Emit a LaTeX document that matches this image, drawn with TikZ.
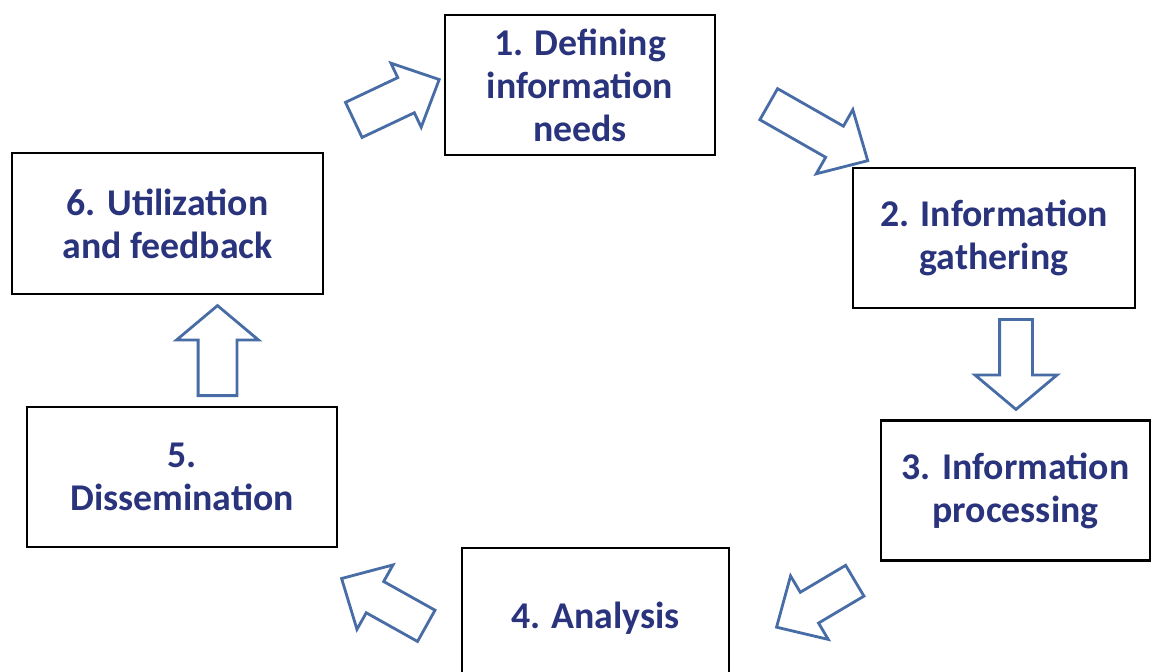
\documentclass[tikz,border=0pt]{standalone}
\usepackage{fontspec}
\setmainfont{Carlito}
\usepackage{tikz}
\usetikzlibrary{shapes.arrows}

\definecolor{navytext}{RGB}{42,52,125}
\definecolor{flowblue}{RGB}{72,108,165}

\begin{document}
\begin{tikzpicture}[
    stage/.style={rectangle, draw, line width=1.6pt, minimum width=5.4cm, minimum height=2.8cm, align=center, text=navytext, font=\bfseries\fontsize{21.5}{24.5}\selectfont},
    flow/.style={single arrow, draw=flowblue, fill=white, line width=1.6pt, inner xsep=0pt, inner ysep=0.33cm, minimum height=1.9cm, single arrow head extend=0.38cm, single arrow tip angle=88, anchor=tail},
    upright/.style={flow, minimum height=1.8cm, single arrow tip angle=100},
]

% Frame
\path[use as bounding box, fill=white] (0,0) rectangle (23.12,-13.42);
\clip (0,0) rectangle (23.12,-13.42);

% Nodes
\node[stage] (define) at (11.6,-1.7) {1. Defining\\information\\needs};
\node[stage, minimum width=5.64cm] (gather) at (19.88,-4.76) {2. Information\\gathering};
\node[stage, minimum width=5.38cm] (process) at (20.31,-9.81) {3. Information\\processing};
\node[stage, minimum width=5.34cm] (analysis) at (11.91,-12.36) {4. Analysis};
\node[stage, minimum width=6.2cm] (dissem) at (3.64,-9.54) {5.\\Dissemination};
\node[stage, minimum width=6.22cm, minimum height=2.82cm] (utilize) at (3.35,-4.47) {6. Utilization\\and feedback};

% Block arrows (placed by their tails)
\node[flow, rotate=-29.7, minimum height=2.28cm] (f12) at (15.35,-2.07) {};
\node[upright, rotate=-90, inner ysep=0.3cm, single arrow head extend=0.49cm] (f23) at (20.32,-6.36) {};
\node[flow, rotate=210.7, minimum height=1.82cm] (f34) at (17.12,-11.6) {};
\node[flow, rotate=150.8, minimum height=1.94cm] (f45) at (8.55,-12.53) {};
\node[upright, rotate=90, inner ysep=0.36cm, single arrow head extend=0.43cm] (f56) at (4.35,-7.94) {};
\node[flow, rotate=25.3, minimum height=1.89cm, inner ysep=0.36cm, single arrow head extend=0.32cm] (f61) at (7.05,-2.41) {};

\end{tikzpicture}
\end{document}
